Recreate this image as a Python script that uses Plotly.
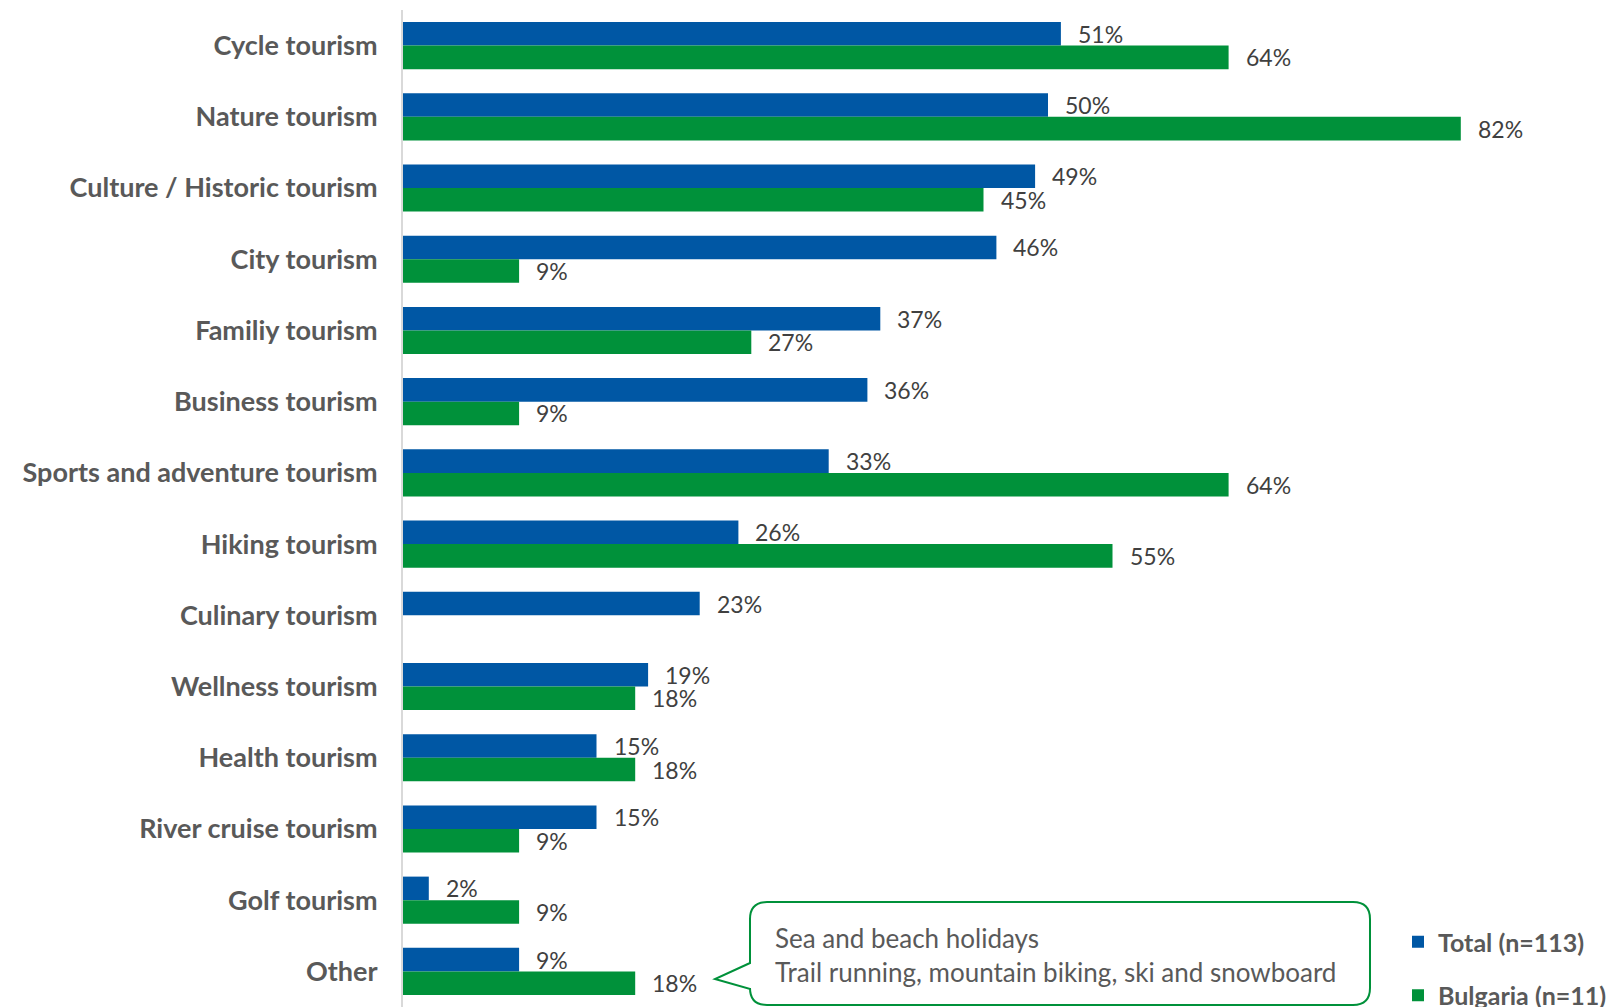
import plotly.graph_objects as go

# Survey: which types of tourism are offered (share of respondents, %)
categories = [
    "Cycle tourism",
    "Nature tourism",
    "Culture / Historic tourism",
    "City tourism",
    "Familiy tourism",
    "Business tourism",
    "Sports and adventure tourism",
    "Hiking tourism",
    "Culinary tourism",
    "Wellness tourism",
    "Health tourism",
    "River cruise tourism",
    "Golf tourism",
    "Other",
]
total_values = [51, 50, 49, 46, 37, 36, 33, 26, 23, 19, 15, 15, 2, 9]
bulgaria_values = [64, 82, 45, 9, 27, 9, 64, 55, None, 18, 18, 9, 9, 18]

series_names = ["Total (n=113)", "Bulgaria (n=11)"]
other_note_lines = [
    "Sea and beach holidays",
    "Trail running, mountain biking, ski and snowboard",
]

BLUE = "#0057A4"
GREEN = "#00913A"
LABEL_GREY = "#595959"
VALUE_GREY = "#404040"
FONT = "Lato"

W_PX, H_PX = 1609, 1007
M_L, M_R, M_T, M_B = 403, 9, 10, 0
PLOT_W = W_PX - M_L - M_R
PLOT_H = H_PX - M_T - M_B
X_MAX = PLOT_W / 12.9


def px_x(px):
    return (px - M_L) / PLOT_W


def px_y(py):
    return 1 - (py - M_T) / PLOT_H


fig = go.Figure()
for name, vals, color in [
    (series_names[0], total_values, BLUE),
    (series_names[1], bulgaria_values, GREEN),
]:
    fig.add_trace(
        go.Bar(
            y=categories,
            x=vals,
            name=name,
            orientation="h",
            marker=dict(color=color, line=dict(width=0)),
            legendgroup=name,
            hoverinfo="skip",
        )
    )

# value labels beside each bar
half_bar = PLOT_H / len(categories) * (1 - 0.338) / 4
for vals, shift in [(total_values, half_bar), (bulgaria_values, -half_bar)]:
    for cat, v in zip(categories, vals):
        if v is None:
            continue
        fig.add_annotation(
            x=v, y=cat, xref="x", yref="y",
            text=f"{v}%", showarrow=False,
            xanchor="left", yanchor="middle",
            xshift=15, yshift=shift,
            font=dict(family=FONT, size=23, color=VALUE_GREY),
        )

# speech-bubble callout describing "Other"
bx0, bx1, by0, by1, r = 750, 1370, 902, 1005, 17
tip_x, tip_y, p_top, p_bot = 715, 979, 963, 989


def P(x, y):
    return f"{px_x(x):.5f},{px_y(y):.5f}"


path = (
    f"M{P(bx0 + r, by0)} L{P(bx1 - r, by0)} Q{P(bx1, by0)} {P(bx1, by0 + r)} "
    f"L{P(bx1, by1 - r)} Q{P(bx1, by1)} {P(bx1 - r, by1)} "
    f"L{P(bx0 + r, by1)} Q{P(bx0, by1)} {P(bx0, by1 - r)} "
    f"L{P(bx0, p_bot)} L{P(tip_x, tip_y)} L{P(bx0, p_top)} "
    f"L{P(bx0, by0 + r)} Q{P(bx0, by0)} {P(bx0 + r, by0)} Z"
)
fig.add_shape(
    type="path", path=path, xref="paper", yref="paper",
    line=dict(color=GREEN, width=2), fillcolor="white", layer="above",
)
fig.add_annotation(
    x=px_x(773), y=px_y(920), xref="paper", yref="paper",
    text="<br>".join(other_note_lines), showarrow=False,
    xanchor="left", yanchor="top", align="left",
    font=dict(family=FONT, size=26, color=LABEL_GREY),
)

fig.update_layout(
    width=W_PX, height=H_PX,
    margin=dict(l=M_L, r=M_R, t=M_T, b=M_B, pad=0, autoexpand=False),
    paper_bgcolor="white", plot_bgcolor="white",
    barmode="group", bargap=0.338, bargroupgap=0,
    showlegend=True,
    legend=dict(
        x=px_x(1398), y=px_y(919), xanchor="left", yanchor="top",
        font=dict(family=FONT, size=25, color=LABEL_GREY, weight="bold"),
        tracegroupgap=18, itemwidth=30, bgcolor="rgba(0,0,0,0)",
        traceorder="grouped",
    ),
    xaxis=dict(
        range=[0, X_MAX], showgrid=False, zeroline=False,
        showticklabels=False, showline=False, fixedrange=True,
    ),
    yaxis=dict(
        autorange="reversed", showgrid=False, zeroline=False,
        showline=True, linecolor="#D9D9D9", linewidth=2,
        ticks="", ticklabelstandoff=18,
        tickfont=dict(family=FONT, size=27, color=LABEL_GREY, weight="bold"),
    ),
)

fig.write_html("out.html")
